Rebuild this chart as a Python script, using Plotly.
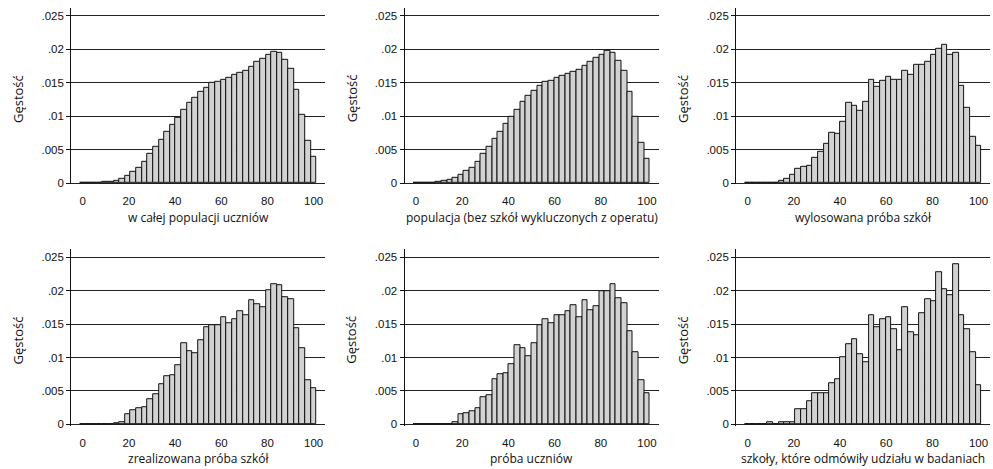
import plotly.graph_objects as go

# Score (% of max points), 42 discrete values 0..41 points
score_pct = [round(k * 100 / 41, 4) for k in range(42)]
bin_width = 100 / 41

populacja_calosc = [0.00002, 0.00003, 0.00005, 0.0001, 0.00015, 0.00015, 0.0004, 0.00065, 0.00115, 0.00165,
                    0.0023, 0.00315, 0.0043, 0.0054, 0.0065, 0.0076, 0.0087, 0.0098, 0.0109, 0.0120,
                    0.0128, 0.0136, 0.0143, 0.0150, 0.0152, 0.0155, 0.0158, 0.0162, 0.0165, 0.0168,
                    0.0174, 0.0181, 0.0186, 0.0191, 0.0196, 0.0195, 0.0184, 0.0171, 0.0140, 0.0102,
                    0.0063, 0.0039]
populacja_bez_wykl = [0.00002, 0.00003, 0.00005, 0.0001, 0.00015, 0.0003, 0.0005, 0.0008, 0.0012, 0.0018,
                      0.0023, 0.0032, 0.0043, 0.0054, 0.0066, 0.0077, 0.0089, 0.0099, 0.0110, 0.0121,
                      0.0130, 0.0138, 0.0145, 0.0151, 0.0153, 0.0157, 0.0160, 0.0163, 0.0167, 0.0170,
                      0.0175, 0.0181, 0.0187, 0.0192, 0.0197, 0.0194, 0.0183, 0.0168, 0.0136, 0.0099,
                      0.0060, 0.0036]
wylosowana_proba = [0.0, 0.0, 0.0, 0.00005, 0.0001, 0.0001, 0.0003, 0.0006, 0.0013, 0.0021,
                    0.0024, 0.0025, 0.0037, 0.0047, 0.0058, 0.0075, 0.0073, 0.0091, 0.0120, 0.0115,
                    0.0108, 0.0122, 0.0154, 0.0144, 0.0153, 0.0159, 0.0154, 0.0155, 0.0168, 0.0162,
                    0.0177, 0.0177, 0.0181, 0.0192, 0.0200, 0.0207, 0.0191, 0.0195, 0.0146, 0.0113,
                    0.0069, 0.0055]
zrealizowana_proba = [0.0, 0.0, 0.0, 0.00005, 0.0001, 0.0001, 0.0002, 0.0004, 0.0015, 0.0021,
                      0.0024, 0.0026, 0.0037, 0.0045, 0.0060, 0.0072, 0.0074, 0.0088, 0.0122, 0.0109,
                      0.0107, 0.0126, 0.0146, 0.0149, 0.0149, 0.0161, 0.0152, 0.0158, 0.0169, 0.0164,
                      0.0186, 0.0180, 0.0176, 0.0200, 0.0209, 0.0208, 0.0190, 0.0187, 0.0144, 0.0114,
                      0.0066, 0.0054]
proba_uczniow = [0.0, 0.0, 0.0, 0.00005, 0.00005, 0.0001, 0.0001, 0.0004, 0.0015, 0.0017,
                 0.0020, 0.0024, 0.0041, 0.0044, 0.0067, 0.0075, 0.0076, 0.0090, 0.0118, 0.0114,
                 0.0102, 0.0121, 0.0149, 0.0158, 0.0151, 0.0163, 0.0164, 0.0169, 0.0179, 0.0160,
                 0.0186, 0.0171, 0.0177, 0.0199, 0.0199, 0.0210, 0.0189, 0.0181, 0.0140, 0.0108,
                 0.0066, 0.0047]
odmowy_szkoly = [0.0, 0.0, 0.0, 0.0, 0.0003, 0.0, 0.0003, 0.0003, 0.0003, 0.0023,
                 0.0023, 0.0035, 0.0046, 0.0046, 0.0046, 0.0061, 0.0068, 0.0100, 0.0120, 0.0128,
                 0.0105, 0.0093, 0.0164, 0.0146, 0.0158, 0.0161, 0.0143, 0.0111, 0.0175, 0.0138,
                 0.0134, 0.0167, 0.0187, 0.0184, 0.0228, 0.0202, 0.0193, 0.0239, 0.0164, 0.0143,
                 0.0108, 0.0058]

series = [populacja_calosc, populacja_bez_wykl, wylosowana_proba,
          zrealizowana_proba, proba_uczniow, odmowy_szkoly]
titles = ["w całej populacji uczniów", "populacja (bez szkół wykluczonych z operatu)",
          "wylosowana próba szkół", "zrealizowana próba szkół", "próba uczniów",
          "szkoły, które odmówiły udziału w badaniach"]

x_ticks = [0, 20, 40, 60, 80, 100]
y_ticks = [0, 0.005, 0.01, 0.015, 0.02, 0.025]
y_tick_text = ["0", ".005", ".01", ".015", ".02", ".025"]
y_title = "Gęstość"

W, H = 993, 469
col_px = [(71.2, 325.2), (404.5, 658.5), (736.1, 990.1)]
row_px = [(7.9, 186.35), (251.9, 430.35)]

TICK_FONT = dict(family="Liberation Sans, Arial, sans-serif", size=11.5, color="#111")
TITLE_FONT = dict(family="Open Sans, sans-serif", size=12, color="#111")

fig = go.Figure()
layout = dict(width=W, height=H, margin=dict(l=0, r=0, t=0, b=0),
              paper_bgcolor="white", plot_bgcolor="white", showlegend=False,
              bargap=0, annotations=[])

for i, vals in enumerate(series):
    r, c = divmod(i, 3)
    n = i + 1
    xname = "x" if n == 1 else f"x{n}"
    yname = "y" if n == 1 else f"y{n}"
    fig.add_trace(go.Bar(x=score_pct, y=vals, width=bin_width, xaxis=xname, yaxis=yname,
                         marker=dict(color="#d2d2d2", line=dict(color="#111", width=1))))
    x0, x1 = col_px[c]
    y0, y1 = row_px[r]
    xd = [x0 / W, x1 / W]
    yd = [1 - y1 / H, 1 - y0 / H]
    layout["xaxis" if n == 1 else f"xaxis{n}"] = dict(
        domain=xd, anchor=yname, range=[-5, 105], tickvals=x_ticks,
        showgrid=False, zeroline=False, showline=False,
        ticks="outside", ticklen=6, tickcolor="rgba(0,0,0,0)", tickfont=TICK_FONT)
    layout["yaxis" if n == 1 else f"yaxis{n}"] = dict(
        domain=yd, anchor=xname, range=[-0.0002, 0.0262], tickvals=y_ticks, ticktext=y_tick_text,
        showgrid=True, gridcolor="#222", gridwidth=1, zeroline=False,
        showline=True, linecolor="#111", linewidth=1,
        ticks="outside", ticklen=4, tickcolor="#111", tickfont=TICK_FONT)
    # x-axis title
    layout["annotations"].append(dict(
        text=titles[i], x=(x0 + x1) / 2 / W, y=1 - (y1 + 33) / H, xref="paper", yref="paper",
        showarrow=False, font=TITLE_FONT, xanchor="center", yanchor="middle"))
    # y-axis title
    layout["annotations"].append(dict(
        text=y_title, x=(x0 - 53) / W, y=1 - (y0 + 92) / H, xref="paper", yref="paper",
        showarrow=False, font=dict(family="Open Sans, sans-serif", size=13, color="#111"),
        textangle=-90, xanchor="center", yanchor="middle"))

fig.update_layout(**layout)
fig.write_html("out.html", config={"displayModeBar": False},
               post_script="document.body.style.margin='0';document.body.style.overflow='hidden';")
